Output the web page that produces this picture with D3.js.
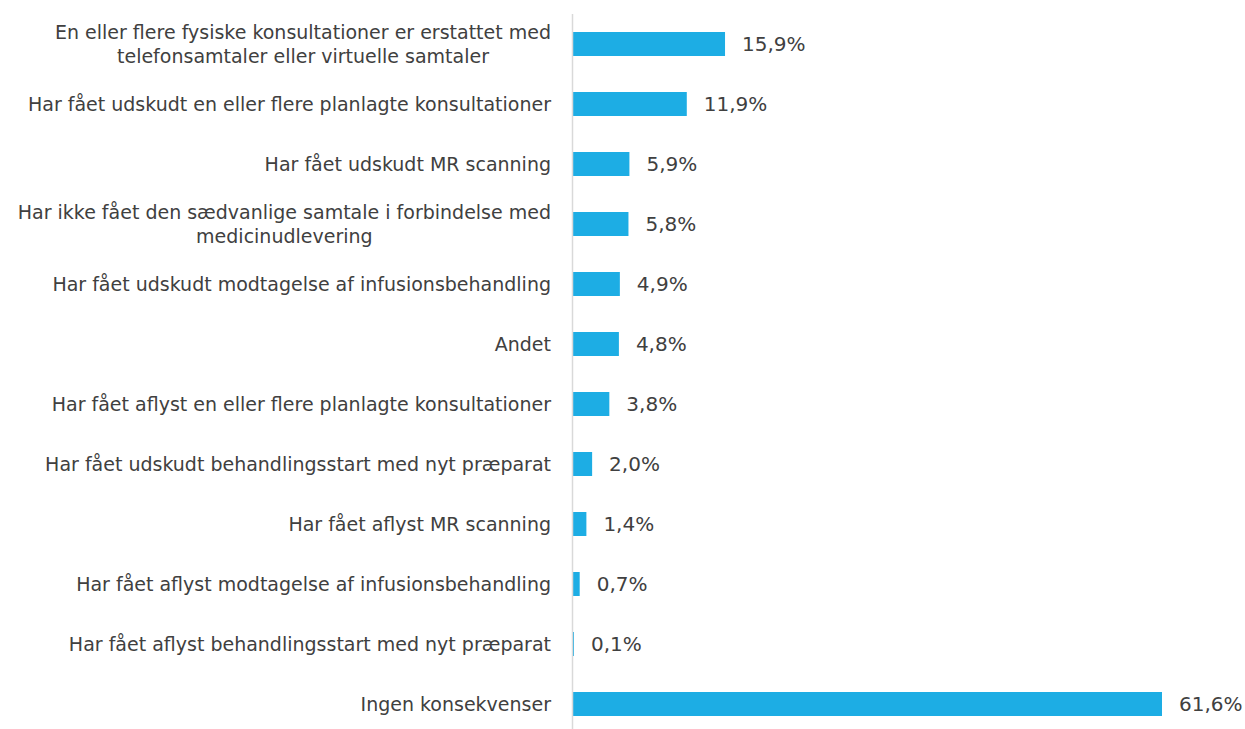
<!DOCTYPE html>
<html>
<head>
<meta charset="utf-8">
<script src="https://cdn.jsdelivr.net/npm/d3@7"></script>
<style>
  body { margin: 0; background: #fff; }
  text { font-family: "DejaVu Sans", sans-serif; fill: #404040; }
</style>
</head>
<body>
<div id="chart"></div>
<script>
//--------------------------------------------------------------------------------
// data
var categories = [
   ["En eller flere fysiske konsultationer er erstattet med", "telefonsamtaler eller virtuelle samtaler"],
   ["Har fået udskudt en eller flere planlagte konsultationer"],
   ["Har fået udskudt MR scanning"],
   ["Har ikke fået den sædvanlige samtale i forbindelse med", "medicinudlevering"],
   ["Har fået udskudt modtagelse af infusionsbehandling"],
   ["Andet"],
   ["Har fået aflyst en eller flere planlagte konsultationer"],
   ["Har fået udskudt behandlingsstart med nyt præparat"],
   ["Har fået aflyst MR scanning"],
   ["Har fået aflyst modtagelse af infusionsbehandling"],
   ["Har fået aflyst behandlingsstart med nyt præparat"],
   ["Ingen konsekvenser"]
];
var values = [15.9, 11.9, 5.9, 5.8, 4.9, 4.8, 3.8, 2.0, 1.4, 0.7, 0.1, 61.6];

//--------------------------------------------------------------------------------
var width = 1245, height = 729;
var axisX = 573;
var labelRight = 551;

var svg = d3.select("#chart").append("svg")
    .attr("width", width)
    .attr("height", height);

var x = d3.scaleLinear()
    .domain([0, 61.6])
    .range([axisX, 1162]);

var y = d3.scaleBand()
    .domain(d3.range(values.length))
    .range([14, 734])
    .paddingInner(0.6)
    .paddingOuter(0.3);

var fmt = function(v){ return d3.format(".1f")(v).replace(".", ",") + "%"; };

   // bars
svg.selectAll("rect.bar")
   .data(values)
   .enter()
   .append("rect")
   .attr("class", "bar")
   .attr("x", x(0))
   .attr("y", function(d, i){ return y(i); })
   .attr("width", function(d){ return x(d) - x(0); })
   .attr("height", y.bandwidth())
   .style("fill", "#1dade4");

   // axis line
svg.append("line")
   .attr("x1", axisX - 0.5).attr("x2", axisX - 0.5)
   .attr("y1", 14).attr("y2", height)
   .style("stroke", "#d9d9d9")
   .style("stroke-width", 1.5);

   // value labels
svg.selectAll("text.val")
   .data(values)
   .enter()
   .append("text")
   .attr("class", "val")
   .attr("x", function(d){ return x(d) + 17; })
   .attr("y", function(d, i){ return y(i) + y.bandwidth() / 2; })
   .attr("dy", "0.35em")
   .style("font-size", "20px")
   .text(fmt);

   // category labels, multi-line ones are centred on each other
var lineH = 24;
categories.forEach(function(lines, i){
   var g = svg.append("g");
   var cy = y(i) + y.bandwidth() / 2;
   var t = g.selectAll("text")
      .data(lines)
      .enter()
      .append("text")
      .attr("y", function(d, j){ return cy + (j - (lines.length - 1) / 2) * lineH; })
      .attr("dy", "0.35em")
      .attr("text-anchor", "middle")
      .style("font-size", "19px")
      .text(function(d){ return d; });
   var maxW = d3.max(t.nodes(), function(n){ return n.getComputedTextLength(); });
   t.attr("x", labelRight - maxW / 2);
});
</script>
</body>
</html>
